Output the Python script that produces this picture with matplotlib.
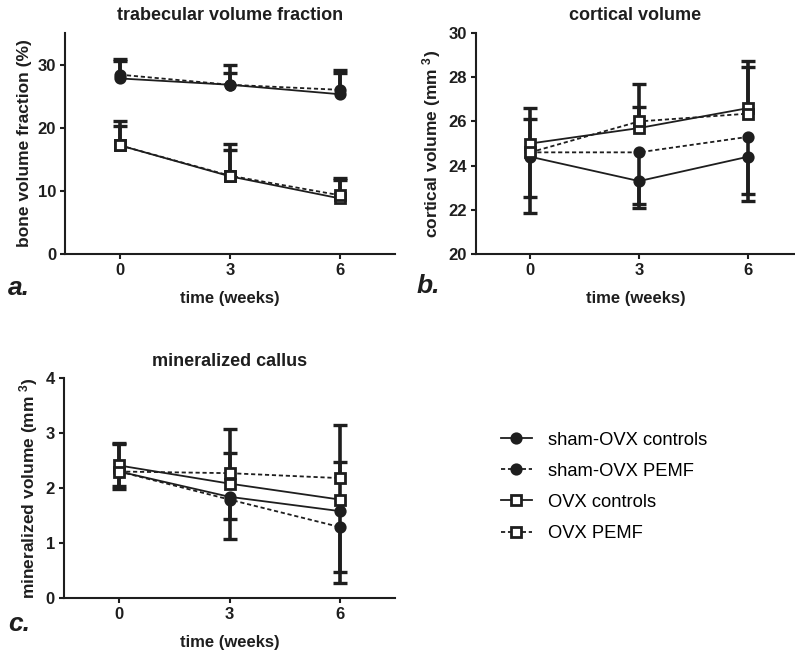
import numpy as np
import matplotlib
matplotlib.use('Agg')
import matplotlib.pyplot as plt

plt.rcParams['font.family'] = ['Liberation Sans', 'DejaVu Sans']
plt.rcParams['font.weight'] = 'bold'
plt.rcParams['lines.scale_dashes'] = False

INK = '#1e1e1e'

weeks = [0, 3, 6]
groups = ['sham-OVX controls', 'sham-OVX PEMF', 'OVX controls', 'OVX PEMF']

# trabecular volume fraction (%): means and tip of the error bar
bvf_sham_ctrl = [27.8, 26.8, 25.3]
bvf_sham_pemf = [28.4, 26.8, 26.0]
bvf_ovx_ctrl = [17.2, 12.3, 8.8]
bvf_ovx_pemf = [17.2, 12.4, 9.3]
bvf_sham_ctrl_tip = [30.9, 29.9, 29.1]
bvf_sham_pemf_tip = [30.5, 28.6, 28.6]
bvf_ovx_ctrl_tip = [21.0, 17.4, 12.1]
bvf_ovx_pemf_tip = [20.3, 16.4, 11.7]

# cortical volume (mm3)
cv_sham_ctrl = [24.4, 23.3, 24.4]
cv_sham_pemf = [24.6, 24.6, 25.3]
cv_ovx_ctrl = [25.0, 25.7, 26.6]
cv_ovx_pemf = [24.6, 26.0, 26.35]
cv_sham_ctrl_tip = [21.85, 22.07, 22.7]
cv_sham_pemf_tip = [22.57, 22.26, 22.41]
cv_ovx_ctrl_tip = [26.6, 26.64, 28.75]
cv_ovx_pemf_tip = [26.1, 27.69, 28.48]

# mineralized callus volume (mm3)
mc_sham_ctrl = [2.30, 1.84, 1.58]
mc_sham_pemf = [2.30, 1.79, 1.29]
mc_ovx_ctrl = [2.41, 2.08, 1.79]
mc_ovx_pemf = [2.30, 2.27, 2.18]
mc_sham_ctrl_tip = [2.04, 1.07, 0.48]
mc_sham_pemf_tip = [1.98, 1.43, 0.27]
mc_ovx_ctrl_tip = [2.82, 2.64, 2.48]
mc_ovx_pemf_tip = [2.80, 3.07, 3.15]

styles = [
    dict(marker='o', ls='-', mfc=INK, ms=6.8),
    dict(marker='o', ls=(0, (3, 2)), mfc=INK, ms=6.8),
    dict(marker='s', ls='-', mfc='white', ms=6.5),
    dict(marker='s', ls=(0, (3, 2)), mfc='white', ms=6.5),
]


def draw(ax, means, tips):
    for m, t in zip(means, tips):
        ax.vlines(weeks, m, t, color=INK, lw=2.6, zorder=2)
        ax.plot(weeks, t, ls='none', marker='_', ms=10, mew=2.4, color=INK, zorder=2)
    handles = []
    for m, st, name in zip(means, styles, groups):
        h, = ax.plot(weeks, m, color=INK, lw=1.3, mec=INK, mew=2.0,
                     zorder=3, label=name, **st)
        handles.append(h)
    return handles


def style(ax, title, ylabel, ylim, yticks):
    ax.set_xlim(-1.5, 7.5)
    ax.set_ylim(*ylim)
    ax.set_xticks(weeks)
    ax.set_yticks(yticks)
    ax.spines['top'].set_visible(False)
    ax.spines['right'].set_visible(False)
    for s in ['left', 'bottom']:
        ax.spines[s].set_linewidth(1.5)
        ax.spines[s].set_color(INK)
    ax.tick_params(direction='out', length=3.5, width=1.5, labelsize=12,
                   colors=INK, pad=3)
    ax.set_title(title, fontsize=13, fontweight='bold', pad=9, color=INK)
    ax.set_xlabel('time (weeks)', fontsize=12, fontweight='bold', labelpad=9, color=INK)
    ax.set_ylabel(ylabel, fontsize=12.5, fontweight='bold', labelpad=4, color=INK)


fig = plt.figure(figsize=(7.95, 6.52), dpi=100)
ax_a = fig.add_axes([0.0818, 0.6104, 0.4151, 0.339])
ax_b = fig.add_axes([0.5987, 0.6104, 0.4013, 0.339])
ax_c = fig.add_axes([0.0805, 0.0828, 0.4164, 0.3374])

handles = draw(ax_a, [bvf_sham_ctrl, bvf_sham_pemf, bvf_ovx_ctrl, bvf_ovx_pemf],
               [bvf_sham_ctrl_tip, bvf_sham_pemf_tip, bvf_ovx_ctrl_tip, bvf_ovx_pemf_tip])
style(ax_a, 'trabecular volume fraction', 'bone volume fraction (%)', (0, 35), [0, 10, 20, 30])

draw(ax_b, [cv_sham_ctrl, cv_sham_pemf, cv_ovx_ctrl, cv_ovx_pemf],
     [cv_sham_ctrl_tip, cv_sham_pemf_tip, cv_ovx_ctrl_tip, cv_ovx_pemf_tip])
style(ax_b, 'cortical volume', r'cortical volume (mm $\mathregular{^3}$)', (20, 30),
      [20, 22, 24, 26, 28, 30])
ax_b.set_xlim(-1.5, 7.3)

draw(ax_c, [mc_sham_ctrl, mc_sham_pemf, mc_ovx_ctrl, mc_ovx_pemf],
     [mc_sham_ctrl_tip, mc_sham_pemf_tip, mc_ovx_ctrl_tip, mc_ovx_pemf_tip])
style(ax_c, 'mineralized callus', r'mineralized volume (mm $\mathregular{^3}$)', (0, 4),
      [0, 1, 2, 3, 4])

for lab, x, y in [('a.', 0.010, 0.558), ('b.', 0.524, 0.561), ('c.', 0.010, 0.043)]:
    fig.text(x, y, lab, fontsize=19, fontweight='bold', style='italic',
             va='center', ha='left', color=INK)

fig.legend(handles=handles, loc='upper left', bbox_to_anchor=(0.630, 0.338),
           frameon=False, borderpad=0, borderaxespad=0, handlelength=1.7,
           handletextpad=0.85, labelspacing=0.77,
           prop=dict(family='Liberation Sans', weight='normal', size=13.2))

fig.savefig('out.png', dpi=100)
